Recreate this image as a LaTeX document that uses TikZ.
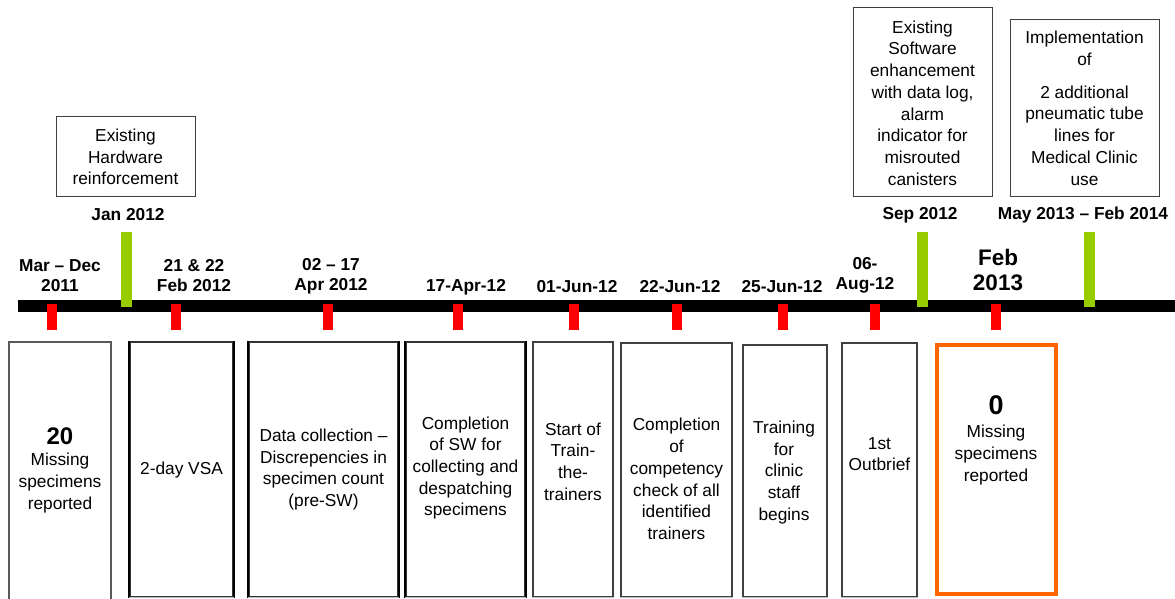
\documentclass[tikz,border=0pt]{standalone}
\usepackage{fontspec}
\setmainfont{Liberation Sans}
\definecolor{lgreen}{HTML}{99CC00}
\definecolor{mred}{HTML}{FF0000}
\definecolor{morange}{HTML}{FF6600}
\begin{document}
\begin{tikzpicture}[x=1pt,y=-1pt,
  body/.style={font=\fontsize{17.3}{21.7}\selectfont, align=center, inner sep=0pt},
  datelbl/.style={font=\bfseries\fontsize{17.3}{20}\selectfont, align=center, inner sep=0pt},
  bigdate/.style={font=\bfseries\fontsize{22.5}{25}\selectfont, align=center, inner sep=0pt},
  topbox/.style={draw=black!75, line width=1pt, inner sep=0pt},
  botbox/.style={draw=black!75, line width=1.2pt, inner sep=0pt},
  thickbox/.style={draw=black!80, line width=1.2pt, inner sep=0pt},
  thickside/.style={draw=black, line width=2pt},
  lowedge/.style={draw=black!25, line width=1.2pt},
  redmark/.style={fill=mred, draw=none, minimum width=10pt, minimum height=26pt, inner sep=0pt},
  greenmark/.style={fill=lgreen, draw=none, minimum width=11pt, minimum height=75pt, inner sep=0pt},
  bignum/.style={font=\bfseries\fontsize{24}{26}\selectfont, inner sep=0pt}
]
\useasboundingbox (0,0) rectangle (1175,599);
\fill[white] (0,0) rectangle (1175,599);

% top boxes
\node[topbox, minimum width=139pt, minimum height=79pt] (hwbox) at (125.5,156.5) {};
\node[body] (hwtext) at (125.5,157) {Existing\\Hardware\\reinforcement};
\node[topbox, minimum width=139pt, minimum height=188pt] (swbox) at (922.5,102) {};
\node[body] (swtext) at (922.5,103) {Existing\\Software\\enhancement\\with data log,\\alarm\\indicator for\\misrouted\\canisters};
\node[topbox, minimum width=149pt, minimum height=176pt] (ptbox) at (1084.5,108) {};
\node[body] (pttext1) at (1084.5,48.5) {Implementation\\of};
\node[body] (pttext2) at (1084.5,135.5) {2 additional\\pneumatic tube\\lines for\\Medical Clinic\\use};

% top date labels
\node[datelbl] (djan) at (128,215) {Jan 2012};
\node[datelbl] (dsep) at (920,215) {Sep 2012};
\node[datelbl] (dmay) at (1083,215) {May 2013 -- Feb 2014};

% timeline bar
\fill[black] (18,300) rectangle (1175,312);

% green bars
\node[greenmark] (g1) at (126.5,269.5) {};
\node[greenmark] (g2) at (922.5,269.5) {};
\node[greenmark] (g3) at (1089.5,269.5) {};

% red marks
\foreach \x/\n in {52/r1,176/r2,328/r3,458/r4,574/r5,677/r6,783/r7,875/r8,996/r9}
  \node[redmark] (\n) at (\x,317) {};

% labels above timeline
\node[datelbl] (dmar) at (60,276) {Mar -- Dec\\2011};
\node[datelbl] (dfeb) at (194,276) {21 \& 22\\Feb 2012};
\node[datelbl] (dapr) at (331,276) {02 -- 17\\Apr 2012};
\node[datelbl] (d17) at (466,287) {17-Apr-12};
\node[datelbl] (d01) at (577,287) {01-Jun-12};
\node[datelbl] (d22) at (680,287) {22-Jun-12};
\node[datelbl] (d25) at (782,287) {25-Jun-12};
\node[datelbl] (d06) at (865,275) {06-\\Aug-12};
\node[bigdate] (dfeb13) at (998,270) {Feb\\2013};

% bottom boxes
\draw[botbox, draw=black!65] (9,602) -- (9,342) -- (111,342) -- (111,602);
\foreach \n/\cx/\w in {bB/181.5/103, bC/323.5/149, bD/465.5/119} {
  \node[thickbox, minimum width=\w pt, minimum height=255pt] (\n) at (\cx,469.5) {};
  \draw[thickside] (\n.north west) -- (\n.south west);
  \draw[thickside] (\n.north east) -- (\n.south east);
  \draw[lowedge] (\n.south west) -- (\n.south east);
}
\node[botbox, minimum width=80pt, minimum height=255pt] (bE) at (573,469.5) {};
\node[botbox, minimum width=111pt, minimum height=254pt] (bF) at (676.5,470) {};
\node[botbox, minimum width=84pt, minimum height=252pt] (bG) at (785,471) {};
\node[botbox, minimum width=75pt, minimum height=254pt] (bH) at (879.5,470) {};
\foreach \n in {bE,bF,bG,bH}
  \draw[lowedge] (\n.south west) -- (\n.south east);
\node[draw=morange, line width=4.5pt, minimum width=119pt, minimum height=249pt, inner sep=0pt] (bO) at (996.5,469.5) {};

% bottom texts
\node[bignum] (tA0) at (60,436) {20};
\node[body] (tA) at (60,483) {Missing\\specimens\\reported};
\node[body] (tB) at (181.5,470) {2-day VSA};
\node[body] (tC) at (323.5,469.5) {Data collection --\\Discrepencies in\\specimen count\\(pre-SW)};
\node[body] (tD) at (465.5,468) {Completion\\of SW for\\collecting and\\despatching\\specimens};
\node[body] (tE) at (573,461.5) {Start of\\Train-\\the-\\trainers};
\node[body] (tF) at (676.5,479) {Completion\\of\\competency\\check of all\\identified\\trainers};
\node[body] (tG) at (784,472.5) {Training\\for\\clinic\\staff\\begins};
\node[body] (tH) at (879.5,454) {1st\\Outbrief};
\node[bignum, font=\bfseries\fontsize{27}{29}\selectfont] (tO0) at (996,405) {0};
\node[body] (tO) at (996,455) {Missing\\specimens\\reported};
\end{tikzpicture}
\end{document}
